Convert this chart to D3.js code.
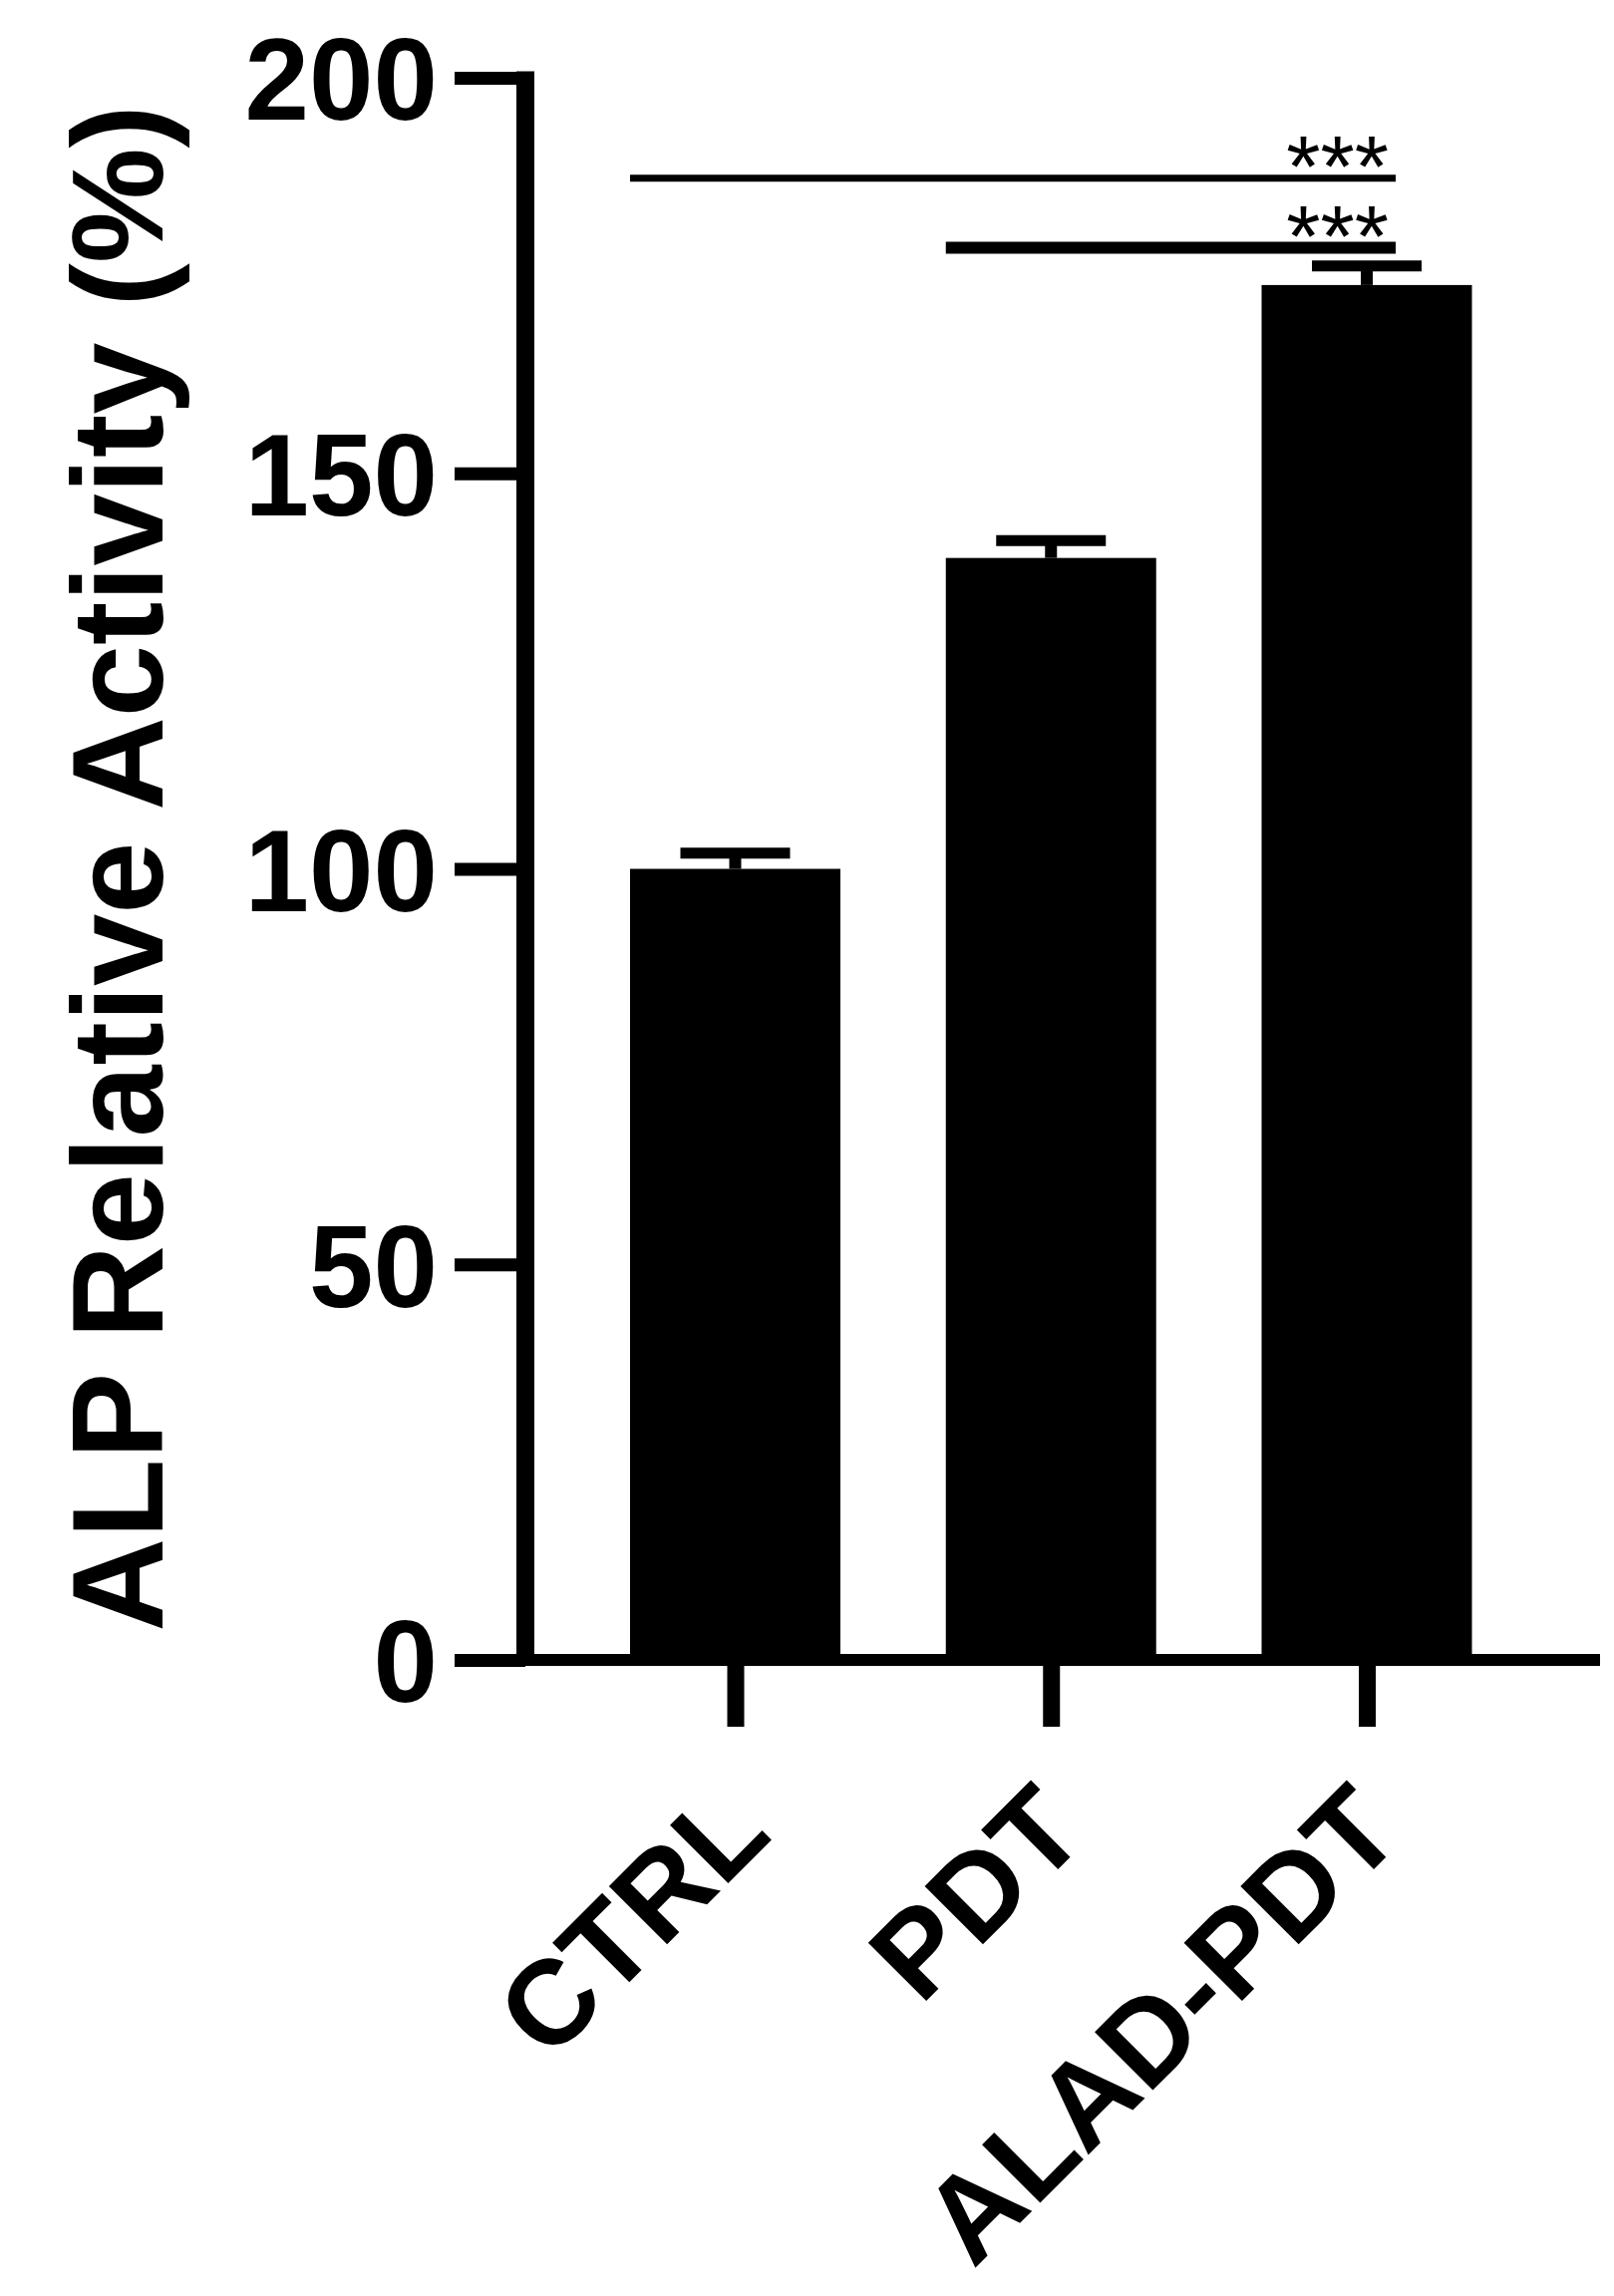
<!DOCTYPE html>
<html>
<head>
<meta charset="utf-8">
<script src="https://cdn.jsdelivr.net/npm/d3@7"></script>
<style>
body { margin: 0; background: #fff; }
text { font-family: "Liberation Sans", Arial, sans-serif; fill: #000; }
</style>
</head>
<body>
<script>
// data
var categories = ["CTRL", "PDT", "ALAD-PDT"];
var means = [100, 139.3, 173.8];
var errors = [2, 2.2, 2.4];
var yTicks = [0, 50, 100, 150, 200];
var sigFrom = ["CTRL", "PDT"];
var sigTo = ["ALAD-PDT", "ALAD-PDT"];
var sigLevel = [187.3, 178.5];
var sigText = ["***", "***"];

var width = 1619, height = 2303;

var svg = d3.select("body").append("svg")
    .attr("width", width)
    .attr("height", height);

var y = d3.scaleLinear().domain([0, 200]).range([1665, 78]);
var x = d3.scalePoint().domain(categories).range([737.5, 1371]);
var barW = 211;
var axisX = 527;

// bars
svg.selectAll(".bar")
    .data(categories)
  .enter().append("rect")
    .attr("class", "bar")
    .attr("x", function(d) { return x(d) - barW / 2; })
    .attr("width", barW)
    .attr("y", function(d, i) { return y(means[i]); })
    .attr("height", function(d, i) { return y(0) - y(means[i]); })
    .style("fill", "#000");

// error bars, upper half only
svg.selectAll(".err")
    .data(categories)
  .enter().append("line")
    .attr("x1", function(d) { return x(d); })
    .attr("x2", function(d) { return x(d); })
    .attr("y1", function(d, i) { return y(means[i]); })
    .attr("y2", function(d, i) { return y(means[i] + errors[i]); })
    .style("stroke", "#000")
    .style("stroke-width", 12);

svg.selectAll(".cap")
    .data(categories)
  .enter().append("line")
    .attr("x1", function(d) { return x(d) - 55; })
    .attr("x2", function(d) { return x(d) + 55; })
    .attr("y1", function(d, i) { return y(means[i] + errors[i]); })
    .attr("y2", function(d, i) { return y(means[i] + errors[i]); })
    .style("stroke", "#000")
    .style("stroke-width", 11);

// y axis
var yAxis = svg.append("g")
    .attr("transform", "translate(" + axisX + ",0)")
    .call(d3.axisLeft(y).tickValues(yTicks).tickSize(71).tickSizeOuter(0).tickPadding(17));

yAxis.select(".domain")
    .style("stroke", "#000")
    .style("stroke-width", 18)
    .attr("d", "M0," + (y(0) + 6) + "V" + (y(200) - 6.5));
yAxis.selectAll(".tick line")
    .style("stroke", "#000")
    .style("stroke-width", 13);
yAxis.selectAll(".tick text")
    .attr("dy", "0.36em")
    .style("font-size", "116px")
    .style("font-weight", "bold")
    .style("font-family", "'Liberation Sans', Arial, sans-serif");

// x axis
svg.append("line")
    .attr("x1", axisX - 71)
    .attr("x2", 1605)
    .attr("y1", y(0))
    .attr("y2", y(0))
    .style("stroke", "#000")
    .style("stroke-width", 12);

var xAxis = svg.append("g")
    .attr("transform", "translate(0," + y(0) + ")")
    .call(d3.axisBottom(x).tickSize(67).tickSizeOuter(0));
xAxis.select(".domain").remove();
xAxis.selectAll(".tick line")
    .style("stroke", "#000")
    .style("stroke-width", 17);
xAxis.selectAll(".tick text").remove();

svg.selectAll(".xlabel")
    .data(categories)
  .enter().append("text")
    .attr("class", "xlabel")
    .attr("transform", function(d) {
      return "translate(" + (x(d) + 39) + "," + 1843 + ") rotate(-45)";
    })
    .attr("text-anchor", "end")
    .style("font-size", "120px")
    .style("font-weight", "bold")
    .text(function(d) { return d; });

// y title
svg.append("text")
    .attr("transform", "translate(163,871) rotate(-90)")
    .attr("text-anchor", "middle")
    .style("font-size", "130px")
    .style("font-weight", "bold")
    .text("ALP Relative Activity (%)");

// significance bars
sigFrom.forEach(function(a, i) {
  var ly = y(sigLevel[i]);
  svg.append("line")
      .attr("x1", x(a) - barW / 2)
      .attr("x2", x(sigTo[i]) + 29)
      .attr("y1", ly)
      .attr("y2", ly)
      .style("stroke", "#000")
      .style("stroke-width", i === 0 ? 7 : 12);
  svg.append("text")
      .attr("x", x(sigTo[i]) + 22)
      .attr("y", ly + 18)
      .attr("text-anchor", "end")
      .style("font-size", "88px")
      .text(sigText[i]);
});
</script>
</body>
</html>
